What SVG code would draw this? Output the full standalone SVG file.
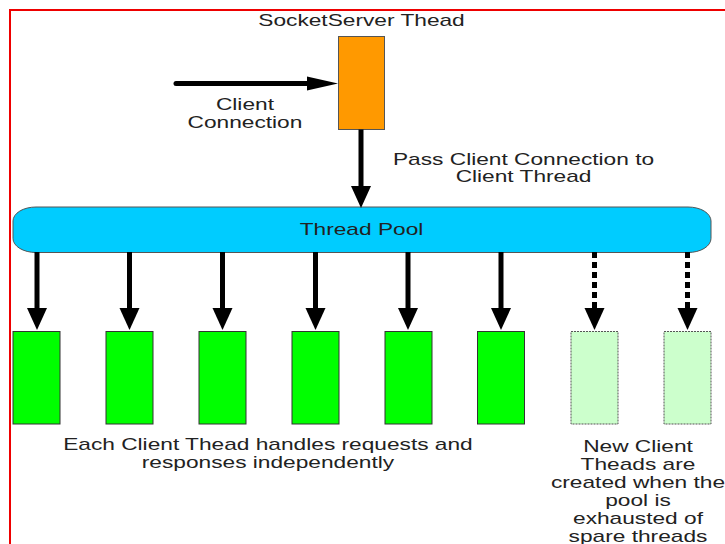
<svg xmlns="http://www.w3.org/2000/svg" width="725" height="544" viewBox="0 0 725 544">
<style>
  text { font-family: "Liberation Sans", Arial, sans-serif; font-size: 16px; fill: #222; text-anchor: middle; }
  .conn { stroke: #000; stroke-width: 5; fill: none; }
  .dash { stroke-dasharray: 6 4; }
  .worker { fill: #00FF00; stroke: #333; stroke-width: 1; }
  .spare { fill: #CCFFCC; stroke: #555; stroke-width: 1; stroke-dasharray: 2 1; }
</style>
<defs>
  <marker id="ahd" markerUnits="userSpaceOnUse" markerWidth="23" markerHeight="20" refX="0" refY="10" orient="auto" overflow="visible">
    <path d="M0,0 L22,10 L0,20 z" fill="#000"/>
  </marker>
  <marker id="ahh" markerUnits="userSpaceOnUse" markerWidth="32" markerHeight="14" refX="0" refY="7" orient="auto" overflow="visible">
    <path d="M0,0 L31,7 L0,14 z" fill="#000"/>
  </marker>
</defs>
<rect width="725" height="544" fill="#fff"/>
<path d="M10,544 V10 H725" fill="none" stroke="#e00" stroke-width="2"/>

<g id="socket-server">
  <text transform="scale(1.42 1)" x="254.6" y="26.5">SocketServer Thead</text>
  <rect x="338.5" y="36.5" width="46" height="93" fill="#FF9900" stroke="#555" stroke-width="1"/>
</g>

<g id="pool">
  <rect x="13" y="207" width="698" height="45.5" rx="23" ry="14" fill="#00CCFF" stroke="#555" stroke-width="1"/>
  <text transform="scale(1.42 1)" x="254.6" y="235">Thread Pool</text>
</g>

<g id="worker1"><rect class="worker" x="13" y="331.5" width="47" height="92.5"/></g>
<g id="worker2"><rect class="worker" x="106" y="331.5" width="47" height="92.5"/></g>
<g id="worker3"><rect class="worker" x="199" y="331.5" width="47" height="92.5"/></g>
<g id="worker4"><rect class="worker" x="292" y="331.5" width="47" height="92.5"/></g>
<g id="worker5"><rect class="worker" x="385" y="331.5" width="47" height="92.5"/></g>
<g id="worker6"><rect class="worker" x="477.5" y="331.5" width="47" height="92.5"/></g>
<g id="spare1"><rect class="spare" x="571" y="331.5" width="47" height="92.5"/></g>
<g id="spare2"><rect class="spare" x="664" y="331.5" width="47" height="92.5"/></g>

<g id="connectors">
  <line class="conn" x1="176" y1="83.5" x2="307" y2="83.5" stroke-linecap="round" marker-end="url(#ahh)"/>
  <line class="conn" x1="361" y1="129.5" x2="361" y2="186" marker-end="url(#ahd)"/>
  <line class="conn" x1="37" y1="252" x2="37" y2="308" marker-end="url(#ahd)"/>
  <line class="conn" x1="129.5" y1="252" x2="129.5" y2="308" marker-end="url(#ahd)"/>
  <line class="conn" x1="222.5" y1="252" x2="222.5" y2="308" marker-end="url(#ahd)"/>
  <line class="conn" x1="315.5" y1="252" x2="315.5" y2="308" marker-end="url(#ahd)"/>
  <line class="conn" x1="408" y1="252" x2="408" y2="308" marker-end="url(#ahd)"/>
  <line class="conn" x1="501" y1="252" x2="501" y2="308" marker-end="url(#ahd)"/>
  <line class="conn dash" x1="594.5" y1="252" x2="594.5" y2="308" marker-end="url(#ahd)"/>
  <line class="conn dash" x1="687.5" y1="252" x2="687.5" y2="308" marker-end="url(#ahd)"/>
</g>

<g id="labels">
  <text transform="scale(1.42 1)" x="172.5" y="110">Client</text>
  <text transform="scale(1.42 1)" x="172.5" y="128">Connection</text>
  <text transform="scale(1.42 1)" x="368.7" y="165">Pass Client Connection to</text>
  <text transform="scale(1.42 1)" x="368.7" y="182.5">Client Thread</text>
  <text transform="scale(1.42 1)" x="188.7" y="450.5">Each Client Thead handles requests and</text>
  <text transform="scale(1.42 1)" x="188.7" y="468">responses independently</text>
  <text transform="scale(1.42 1)" x="449.3" y="452">New Client</text>
  <text transform="scale(1.42 1)" x="449.3" y="470">Theads are</text>
  <text transform="scale(1.42 1)" x="449.3" y="488">created when the</text>
  <text transform="scale(1.42 1)" x="449.3" y="506">pool is</text>
  <text transform="scale(1.42 1)" x="449.3" y="524">exhausted of</text>
  <text transform="scale(1.42 1)" x="449.3" y="542">spare threads</text>
</g>
</svg>
